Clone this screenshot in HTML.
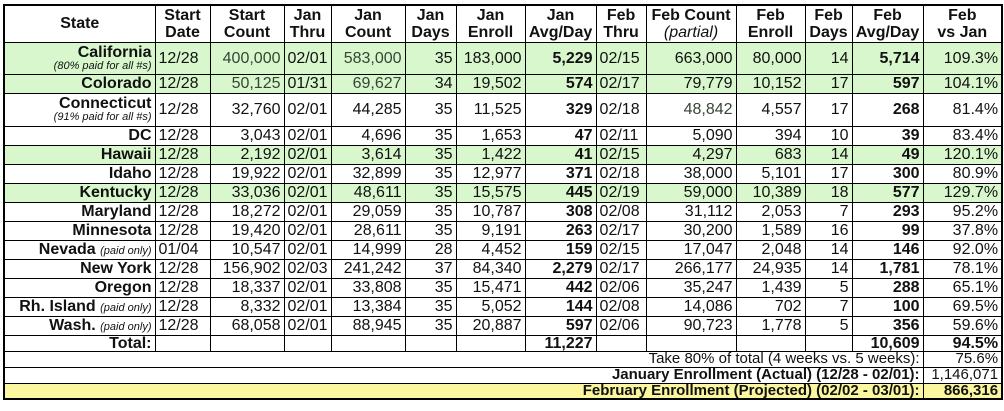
<!DOCTYPE html>
<html><head><meta charset="utf-8"><style>
html,body{margin:0;padding:0;background:#fff;width:1004px;height:411px;overflow:hidden}
table{position:absolute;left:3px;top:4px;border-collapse:collapse;table-layout:fixed;font-family:"Liberation Sans",Arial,sans-serif;font-size:16px;color:#111;border:2.5px solid #000}
td,th{border:1px solid #000;padding:0 3px;white-space:nowrap;overflow:hidden;line-height:15px;text-align:right}
th{text-align:center;font-weight:bold;line-height:17px}
td.s{font-weight:bold}
td.c{text-align:left;padding-left:3px}
.g{background:#d8f7cc}
.y{background:#fbf6a0}
.gr{color:#354535}
.b{font-weight:bold}
.f td{font-size:15px;line-height:14px}
small{display:block;font-size:11px;font-style:italic;font-weight:normal;line-height:12px}
i{font-weight:normal}
tr{height:19px}
</style></head><body>
<table>
<colgroup><col style="width:151px"><col style="width:55px"><col style="width:74px"><col style="width:45px"><col style="width:74px"><col style="width:51px"><col style="width:69px"><col style="width:71px"><col style="width:50px"><col style="width:90px"><col style="width:69px"><col style="width:47px"><col style="width:71px"><col style="width:79px"></colgroup>
<tr style="height:37px"><th>State</th><th>Start<br>Date</th><th>Start<br>Count</th><th>Jan<br>Thru</th><th>Jan<br>Count</th><th>Jan<br>Days</th><th>Jan<br>Enroll</th><th>Jan<br>Avg/Day</th><th>Feb<br>Thru</th><th>Feb Count<br><i>(partial)</i></th><th>Feb<br>Enroll</th><th>Feb<br>Days</th><th>Feb<br>Avg/Day</th><th>Feb<br>vs Jan</th></tr>
<tr class="g" style="height:32px"><td class="s">California<small>(80% paid for all #s)</small></td><td class="c">12/28</td><td class="gr">400,000</td><td class="c">02/01</td><td class="gr">583,000</td><td>35</td><td>183,000</td><td class="b">5,229</td><td class="c">02/15</td><td>663,000</td><td>80,000</td><td>14</td><td class="b">5,714</td><td>109.3%</td></tr>
<tr class="g"><td class="s">Colorado</td><td class="c">12/28</td><td class="gr">50,125</td><td class="c">01/31</td><td class="gr">69,627</td><td>34</td><td>19,502</td><td class="b">574</td><td class="c">02/17</td><td>79,779</td><td>10,152</td><td>17</td><td class="b">597</td><td>104.1%</td></tr>
<tr style="height:33px"><td class="s">Connecticut<small>(91% paid for all #s)</small></td><td class="c">12/28</td><td>32,760</td><td class="c">02/01</td><td>44,285</td><td>35</td><td>11,525</td><td class="b">329</td><td class="c">02/18</td><td class="gr">48,842</td><td>4,557</td><td>17</td><td class="b">268</td><td>81.4%</td></tr>
<tr><td class="s">DC</td><td class="c">12/28</td><td>3,043</td><td class="c">02/01</td><td>4,696</td><td>35</td><td>1,653</td><td class="b">47</td><td class="c">02/11</td><td>5,090</td><td>394</td><td>10</td><td class="b">39</td><td>83.4%</td></tr>
<tr class="g"><td class="s">Hawaii</td><td class="c">12/28</td><td>2,192</td><td class="c">02/01</td><td>3,614</td><td>35</td><td>1,422</td><td class="b">41</td><td class="c">02/15</td><td>4,297</td><td>683</td><td>14</td><td class="b">49</td><td>120.1%</td></tr>
<tr><td class="s">Idaho</td><td class="c">12/28</td><td>19,922</td><td class="c">02/01</td><td>32,899</td><td>35</td><td>12,977</td><td class="b">371</td><td class="c">02/18</td><td>38,000</td><td>5,101</td><td>17</td><td class="b">300</td><td>80.9%</td></tr>
<tr class="g"><td class="s">Kentucky</td><td class="c">12/28</td><td>33,036</td><td class="c">02/01</td><td>48,611</td><td>35</td><td>15,575</td><td class="b">445</td><td class="c">02/19</td><td>59,000</td><td>10,389</td><td>18</td><td class="b">577</td><td>129.7%</td></tr>
<tr><td class="s">Maryland</td><td class="c">12/28</td><td>18,272</td><td class="c">02/01</td><td>29,059</td><td>35</td><td>10,787</td><td class="b">308</td><td class="c">02/08</td><td>31,112</td><td>2,053</td><td>7</td><td class="b">293</td><td>95.2%</td></tr>
<tr><td class="s">Minnesota</td><td class="c">12/28</td><td>19,420</td><td class="c">02/01</td><td>28,611</td><td>35</td><td>9,191</td><td class="b">263</td><td class="c">02/17</td><td>30,200</td><td>1,589</td><td>16</td><td class="b">99</td><td>37.8%</td></tr>
<tr><td class="s">Nevada <small style="display:inline">(paid only)</small></td><td class="c">01/04</td><td>10,547</td><td class="c">02/01</td><td>14,999</td><td>28</td><td>4,452</td><td class="b">159</td><td class="c">02/15</td><td>17,047</td><td>2,048</td><td>14</td><td class="b">146</td><td>92.0%</td></tr>
<tr><td class="s">New York</td><td class="c">12/28</td><td>156,902</td><td class="c">02/03</td><td>241,242</td><td>37</td><td>84,340</td><td class="b">2,279</td><td class="c">02/17</td><td>266,177</td><td>24,935</td><td>14</td><td class="b">1,781</td><td>78.1%</td></tr>
<tr><td class="s">Oregon</td><td class="c">12/28</td><td>18,337</td><td class="c">02/01</td><td>33,808</td><td>35</td><td>15,471</td><td class="b">442</td><td class="c">02/06</td><td>35,247</td><td>1,439</td><td>5</td><td class="b">288</td><td>65.1%</td></tr>
<tr><td class="s">Rh. Island <small style="display:inline">(paid only)</small></td><td class="c">12/28</td><td>8,332</td><td class="c">02/01</td><td>13,384</td><td>35</td><td>5,052</td><td class="b">144</td><td class="c">02/08</td><td>14,086</td><td>702</td><td>7</td><td class="b">100</td><td>69.5%</td></tr>
<tr><td class="s">Wash. <small style="display:inline">(paid only)</small></td><td class="c">12/28</td><td>68,058</td><td class="c">02/01</td><td>88,945</td><td>35</td><td>20,887</td><td class="b">597</td><td class="c">02/06</td><td>90,723</td><td>1,778</td><td>5</td><td class="b">356</td><td>59.6%</td></tr>
<tr style="height:15px"><td class="s">Total:</td><td></td><td></td><td></td><td></td><td></td><td></td><td class="b">11,227</td><td></td><td></td><td></td><td></td><td class="b">10,609</td><td class="b">94.5%</td></tr>
<tr class="f" style="height:16px"><td colspan="13">Take 80% of total (4 weeks vs. 5 weeks):</td><td>75.6%</td></tr>
<tr class="f" style="height:16px"><td colspan="13" class="b">January Enrollment (Actual) (12/28 - 02/01):</td><td>1,146,071</td></tr>
<tr class="f y" style="height:15px"><td colspan="13" class="b">February Enrollment (Projected) (02/02 - 03/01):</td><td class="b">866,316</td></tr>
</table>
</body></html>
